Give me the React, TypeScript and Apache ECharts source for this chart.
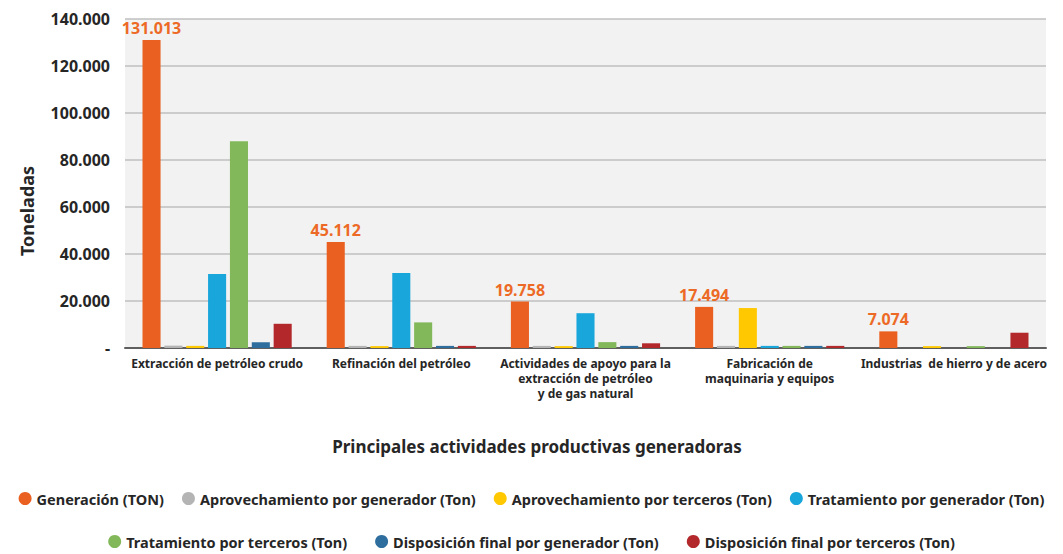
import React, { useEffect, useRef } from "react";
import * as echarts from "echarts";

const categories = [
  "Extracción de petróleo crudo",
  "Refinación del petróleo",
  "Actividades de apoyo para la\nextracción de petróleo\ny de gas natural",
  "Fabricación de\nmaquinaria y equipos",
  "Industrias  de hierro y de acero",
];

const seriesNames = [
  "Generación (TON)",
  "Aprovechamiento por generador (Ton)",
  "Aprovechamiento por terceros (Ton)",
  "Tratamiento por generador (Ton)",
  "Tratamiento por terceros (Ton)",
  "Disposición final por generador (Ton)",
  "Disposición final por terceros (Ton)",
];

const colors = ["#EA6020", "#B4B4B4", "#FFC800", "#18A6DB", "#82B85A", "#2E6E9E", "#B2282B"];

const generacion = [131013, 45112, 19758, 17494, 7074];
const aprovGenerador = [1000, 900, 900, 900, 0];
const aprovTerceros = [900, 800, 800, 17000, 800];
const tratGenerador = [31500, 31900, 14800, 900, 0];
const tratTerceros = [88000, 10900, 2500, 900, 800];
const dispGenerador = [2500, 900, 900, 900, 0];
const dispTerceros = [10300, 900, 2000, 900, 6500];

const seriesData = [generacion, aprovGenerador, aprovTerceros, tratGenerador, tratTerceros, dispGenerador, dispTerceros];

const yTicks = ["-", "20.000", "40.000", "60.000", "80.000", "100.000", "120.000", "140.000"];

const yAxisTitle = "Toneladas";
const xAxisTitle = "Principales actividades productivas generadoras";

const fmt = (v: number) => {
  if (v === 0) return "-";
  return String(Math.round(v)).replace(/\B(?=(\d{3})+(?!\d))/g, ".");
};

const FONT = "'Noto Sans', 'Open Sans', sans-serif";

export default function App() {
  const ref = useRef<HTMLDivElement>(null);
  useEffect(() => {
    if (!ref.current) return;
    const chart = echarts.init(ref.current, undefined, { renderer: "svg" });
    const legendText = { fontFamily: FONT, fontSize: 14.5, fontWeight: "bold", color: "#262626" };
    chart.setOption({
      animation: false,
      backgroundColor: "#ffffff",
      textStyle: { fontFamily: FONT },
      grid: {
        left: 125,
        right: 17,
        top: 19,
        bottom: 206,
        show: true,
        backgroundColor: "#F2F2F2",
        borderWidth: 0,
      },
      graphic: [
        {
          type: "text",
          x: 27,
          y: 211,
          rotation: Math.PI / 2,
          style: {
            text: yAxisTitle,
            fontFamily: FONT,
            fontSize: 18,
            fontWeight: "bold",
            fill: "#262626",
            textAlign: "center",
            textVerticalAlign: "middle",
          },
        },
        {
          type: "text",
          x: 537,
          y: 446,
          style: {
            text: xAxisTitle,
            fontFamily: FONT,
            fontSize: 17,
            fontWeight: "bold",
            fill: "#262626",
            textAlign: "center",
            textVerticalAlign: "middle",
          },
        },
      ],
      legend: [
        {
          data: seriesNames.slice(0, 4),
          top: 486,
          left: "center",
          icon: "circle",
          itemWidth: 13,
          itemHeight: 13,
          itemGap: 18,
          textStyle: legendText,
        },
        {
          data: seriesNames.slice(4),
          top: 529,
          left: "center",
          icon: "circle",
          itemWidth: 13,
          itemHeight: 13,
          itemGap: 28,
          textStyle: legendText,
        },
      ],
      xAxis: {
        type: "category",
        data: categories,
        axisLine: { show: true, lineStyle: { color: "#5F5F5F", width: 2 } },
        axisTick: { show: false },
        axisLabel: {
          interval: 0,
          margin: 8,
          fontFamily: FONT,
          fontSize: 12,
          fontWeight: "bold",
          color: "#262626",
          lineHeight: 15,
        },
      },
      yAxis: {
        type: "value",
        min: 0,
        max: 140000,
        interval: 20000,
        axisLine: { show: false },
        axisTick: { show: false },
        splitLine: { show: true, lineStyle: { color: "#BFBFBF", width: 1.5 } },
        axisLabel: {
          margin: 15,
          fontFamily: FONT,
          fontSize: 16,
          fontWeight: "bold",
          color: "#262626",
          formatter: (v: number) => yTicks[Math.round(v / 20000)] ?? fmt(v),
        },
      },
      series: seriesNames.map((name, i) => ({
        name,
        type: "bar",
        data: seriesData[i],
        barCategoryGap: "19%",
        barGap: "21%",
        itemStyle: { color: colors[i] },
        label:
          i === 0
            ? {
                show: true,
                position: "top",
                distance: 4,
                formatter: (p: any) => fmt(p.value),
                fontFamily: FONT,
                fontSize: 16,
                fontWeight: "bold",
                color: "#ED6A26",
              }
            : { show: false },
      })),
    });
    return () => chart.dispose();
  }, []);
  return <div ref={ref} style={{ position: "fixed", left: 0, top: 0, width: 1063, height: 554 }} />;
}
